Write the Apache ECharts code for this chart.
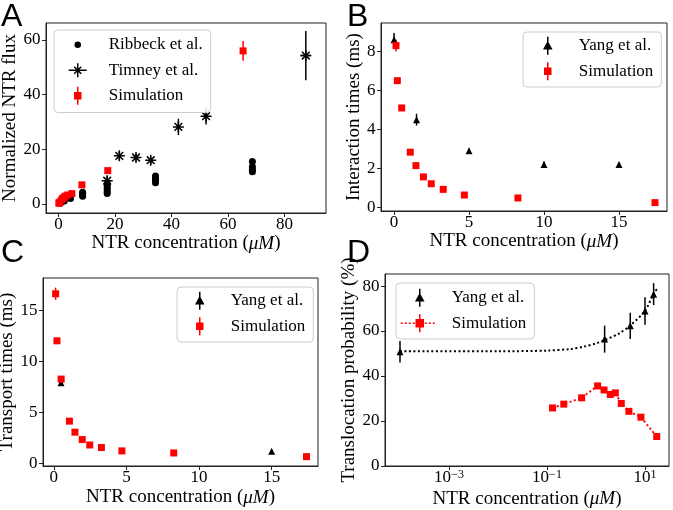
<!DOCTYPE html>
<html><head><meta charset="utf-8">
<script src="https://cdn.jsdelivr.net/npm/echarts@6/dist/echarts.min.js"></script>
<style>html,body{margin:0;padding:0;background:#fff}#c{width:673px;height:510px}</style>
</head><body><div id="c"></div><script>
// ---------------- DATA ----------------
// simulation concentrations (uM), shared by panels B, C, D
const simConc = [0.13, 0.22, 0.51, 1.08, 1.46, 1.96, 2.48, 3.28, 4.69, 8.26, 17.4];

// Panel A: normalized NTR flux
const ribbeckConc = [0.5, 1, 2, 4.2, 8.5, 8.5, 8.5, 8.5, 17.2, 17.2, 17.2, 17.2, 17.2, 17.2, 34.3, 34.3, 34.3, 34.3, 68.6, 68.6, 68.6, 68.6];
const ribbeckFlux = [0.3, 0.6, 1.1, 2.0, 2.8, 3.3, 3.8, 4.3, 3.8, 4.5, 5.2, 6.0, 6.8, 7.5, 7.8, 8.6, 9.4, 10.2, 11.8, 12.6, 13.6, 15.5];
const timneyConc = [17.2, 21.5, 27.4, 32.6, 42.4, 52.2, 87.5];
const timneyFlux = [8.5, 17.6, 17.0, 16.0, 28.2, 32.1, 54.3];
const timneyFluxErr = [1.8, 1.6, 1.2, 1.5, 3.0, 3.0, 9.0];
const timneyConcErr = [0.3, 0.3, 0.3, 0.3, 0.3, 0.3, 1.8];
const simFluxConc = [0.13, 0.22, 0.51, 1.08, 1.46, 1.96, 2.48, 3.28, 4.69, 8.26, 17.4, 65.3];
const simFlux = [0.3, 0.4, 0.8, 1.5, 2.0, 2.5, 2.9, 3.3, 3.8, 7.0, 12.2, 56.0];
const simFluxErr = [0.2, 0.2, 0.2, 0.3, 0.3, 0.3, 0.3, 0.3, 0.4, 0.5, 0.6, 3.6];

// Panel B: interaction times (ms)
const yangIntConc = [0, 1.5, 5, 10, 15];
const yangInt = [8.6, 4.5, 2.9, 2.2, 2.2];
const yangIntErr = [0.35, 0.3, 0.1, 0.15, 0.1];
const simInt = [8.3, 6.5, 5.1, 2.83, 2.14, 1.56, 1.21, 0.92, 0.63, 0.48, 0.24];
const simIntErr = [0.3, 0.12, 0.08, 0.06, 0.05, 0.04, 0.04, 0.03, 0.03, 0.02, 0.02];

// Panel C: transport times (ms)
const yangTrConc = [0.5, 15];
const yangTr = [7.9, 1.2];
const yangTrErr = [0.25, 0.15];
const simTr = [16.6, 12.0, 8.26, 4.15, 3.07, 2.35, 1.82, 1.57, 1.24, 1.04, 0.68];
const simTrErr = [0.6, 0.3, 0.2, 0.1, 0.1, 0.08, 0.06, 0.05, 0.05, 0.04, 0.03];

// Panel D: translocation probability (%)
const yangProbConc = [0.0001, 1.5, 5, 10, 15];
const yangProb = [50.8, 56.4, 62.3, 68.9, 76.4];
const yangProbErr = [4.8, 6.0, 5.8, 6.1, 4.9];
const simProb = [25.8, 27.5, 30.3, 35.6, 33.8, 31.8, 32.5, 27.8, 24.3, 21.7, 13.1];
const simProbErr = [0.5, 0.5, 0.5, 0.6, 0.6, 0.6, 0.6, 0.5, 0.5, 0.5, 0.4];
const fitConc = [0.0001, 0.01, 0.1, 0.3, 0.55, 1, 1.5, 3, 5, 10, 15, 18];
const fitProb = [51, 51, 51.3, 52, 53, 54.5, 56, 59, 62.5, 69, 76.5, 79];

// tick labels
const xTicksA = [0, 20, 40, 60, 80];
const yTicksA = [0, 20, 40, 60];
const xTicksB = [0, 5, 10, 15];
const yTicksB = [0, 2, 4, 6, 8];
const xTicksC = [0, 5, 10, 15];
const yTicksC = [0, 5, 10, 15];
const xTicksD = [0.001, 0.1, 10];
const yTicksD = [0, 20, 40, 60, 80];

// ---------------- STYLE / BUILD ----------------
const SERIF = '"Liberation Serif","Times New Roman",serif';
const SANS = '"Liberation Sans",Arial,sans-serif';
const AX = '#222';
const RED = '#ff0000';

const pairs = (xs, ys) => xs.map((x, i) => [x, ys[i]]);

function axisBase(gi, min, max, ticks, extra) {
  return Object.assign({
    type: 'value', gridIndex: gi, min: min, max: max,
    axisLine: { show: true, onZero: false, lineStyle: { color: AX, width: 1 } },
    axisTick: { show: true, inside: false, length: 4, lineStyle: { color: AX, width: 1 }, customValues: ticks },
    axisLabel: { show: true, customValues: ticks, color: '#000', fontFamily: SERIF, fontSize: 17 },
    splitLine: { show: false }, minorTick: { show: false }, minorSplitLine: { show: false },
    nameLocation: 'middle',
    nameTextStyle: { color: '#000', fontFamily: SERIF, fontSize: 19,
      rich: { i: { fontStyle: 'italic', fontFamily: SERIF, fontSize: 19, color: '#000' } } }
  }, extra);
}
const xName = 'NTR concentration ({i|\u03bcM})';
function xAx(gi, min, max, ticks, gap, extra) {
  const a = axisBase(gi, min, max, ticks, Object.assign({ position: 'bottom', name: xName, nameGap: gap }, extra || {}));
  a.axisLabel.margin = 3;
  return a;
}
function yAx(gi, min, max, ticks, name, gap) {
  const a = axisBase(gi, min, max, ticks, { position: 'left', name: name, nameGap: gap, nameRotate: 90 });
  a.axisLabel.margin = 5.5;
  return a;
}

function errorBars(gi, xs, ys, es, xes, color, lw) {
  const data = xs.map((x, i) => [x, ys[i], es[i], xes ? xes[i] : 0]);
  return {
    type: 'custom', xAxisIndex: gi, yAxisIndex: gi, data: data, silent: true,
    encode: { x: 0, y: 1 },
    renderItem: function (params, api) {
      const x = api.value(0), y = api.value(1), e = api.value(2), ex = api.value(3);
      const a = api.coord([x, y - e]), b = api.coord([x, y + e]);
      const ch = [{ type: 'line', shape: { x1: a[0], y1: a[1], x2: b[0], y2: b[1] }, style: { stroke: color, lineWidth: lw } }];
      if (ex > 0) {
        const c = api.coord([x - ex, y]), d = api.coord([x + ex, y]);
        ch.push({ type: 'line', shape: { x1: c[0], y1: c[1], x2: d[0], y2: d[1] }, style: { stroke: color, lineWidth: lw } });
      }
      return { type: 'group', children: ch };
    }
  };
}
function scatter(name, gi, data, symbol, size, color, extraStyle) {
  return {
    type: 'scatter', name: name, xAxisIndex: gi, yAxisIndex: gi, data: data,
    symbol: symbol, symbolSize: size, symbolKeepAspect: true,
    itemStyle: Object.assign({ color: color, opacity: 1 }, extraStyle || {})
  };
}

const ASTERISK = 'path://M-5,0L5,0M0,-5L0,5M-3.5,-3.5L3.5,3.5M-3.5,3.5L3.5,-3.5';

// legend icons (drawn in a W x 22 box, first two moves fix the box extent)
function box(w) { return 'M0,0M' + w + ',22'; }
const iconRibbeck = 'path://' + box(44) + 'M15.5,11A2.5,2.5 0 1,0 20.5,11A2.5,2.5 0 1,0 15.5,11Z';
const iconTimney = 'path://' + box(44) + 'M9,11L27,11M18,4L18,18M14.5,7.5L21.5,14.5M14.5,14.5L21.5,7.5';
function iconSim(w, cx) { return 'path://' + box(w) + 'M' + cx + ',2L' + cx + ',20M' + (cx - 3) + ',8L' + (cx + 3) + ',8L' + (cx + 3) + ',14L' + (cx - 3) + ',14Z'; }
function iconYang(w, cx) { return 'path://' + box(w) + 'M' + cx + ',2L' + cx + ',20M' + cx + ',7.5L' + (cx + 3.5) + ',14L' + (cx - 3.5) + ',14Z'; }
function iconSimLine(w, cx) {
  let p = 'path://' + box(w);
  for (let x = 2; x < 38; x += 4) p += 'M' + x + ',11L' + (x + 2) + ',11';
  p += 'M' + cx + ',2L' + cx + ',20M' + (cx - 3.5) + ',7.5L' + (cx + 3.5) + ',7.5L' + (cx + 3.5) + ',14.5L' + (cx - 3.5) + ',14.5Z';
  return p;
}
const lgBlack = { color: '#000', borderColor: '#000', borderWidth: 1.5 };
const lgRed = { color: RED, borderColor: RED, borderWidth: 1.5 };

function legend(left, top, w, pad, items) {
  return {
    show: true, orient: 'vertical', left: left, top: top, padding: pad,
    itemWidth: w, itemHeight: 22, itemGap: 2, symbolKeepAspect: true, selectedMode: false,
    backgroundColor: 'rgba(255,255,255,0.85)', borderColor: '#cccccc', borderWidth: 1, borderRadius: 4,
    textStyle: { color: '#000', fontFamily: SERIF, fontSize: 17 },
    formatter: n => n.split('\u00b7')[0],
    data: items
  };
}

const option = {
  animation: false,
  backgroundColor: '#fff',
  grid: [
    { left: 46, top: 23, width: 280, height: 190 },
    { left: 381, top: 23, width: 286, height: 188 },
    { left: 43, top: 278, width: 275, height: 188 },
    { left: 385, top: 274, width: 284, height: 192 }
  ].map(g => Object.assign(g, { show: true, borderColor: AX, borderWidth: 1, backgroundColor: 'transparent', containLabel: false, outerBoundsMode: 'none' })),
  xAxis: [
    xAx(0, -4.46, 94.65, xTicksA, 21),
    xAx(1, -0.87, 18.2, xTicksB, 21),
    xAx(2, -0.74, 18.19, xTicksC, 22),
    (function () {
      const a = xAx(3, Math.pow(10, -4.306), Math.pow(10, 1.49), xTicksD, 23.5, { type: 'log', logBase: 10 });
      a.axisLabel.formatter = function (v) {
        const e = Math.round(Math.log10(v));
        return '{b|10}{s|' + (e < 0 ? '\u2212' + (-e) : e) + '}';
      };
      a.axisLabel.rich = {
        b: { fontFamily: SERIF, fontSize: 17, color: '#000' },
        s: { fontFamily: SERIF, fontSize: 12, color: '#000', verticalAlign: 'top', lineHeight: 12 }
      };
      return a;
    })()
  ],
  yAxis: [
    yAx(0, -3.3, 66.2, yTicksA, 'Normalized NTR flux', 24),
    yAx(1, -0.19, 9.46, yTicksB, 'Interaction times (ms)', 17),
    yAx(2, -0.235, 18.14, yTicksC, 'Transport times (ms)', 24),
    yAx(3, 0, 85.35, yTicksD, 'Translocation probability (%)', 23)
  ],
  legend: [
    legend(54, 30, 44, [3, 8, 5, 5], [
      { name: 'Ribbeck et al.', icon: iconRibbeck, itemStyle: lgBlack },
      { name: 'Timney et al.', icon: iconTimney, itemStyle: lgBlack },
      { name: 'Simulation\u00b7A', icon: iconSim(44, 18), itemStyle: lgRed }
    ]),
    legend(523, 32, 44, [2, 8, 4, 6], [
      { name: 'Yang et al.\u00b7B', icon: iconYang(44, 18), itemStyle: lgBlack },
      { name: 'Simulation\u00b7B', icon: iconSim(44, 18), itemStyle: lgRed }
    ]),
    legend(177, 287, 44, [2, 8, 4, 4], [
      { name: 'Yang et al.\u00b7C', icon: iconYang(44, 18), itemStyle: lgBlack },
      { name: 'Simulation\u00b7C', icon: iconSim(44, 18), itemStyle: lgRed }
    ]),
    legend(396, 283, 48, [3, 8, 4, 2], [
      { name: 'Yang et al.\u00b7D', icon: iconYang(48, 21), itemStyle: lgBlack },
      { name: 'Simulation\u00b7D', icon: iconSimLine(48, 21), itemStyle: lgRed }
    ])
  ],
  series: [
    // Panel A
    scatter('Ribbeck et al.', 0, pairs(ribbeckConc, ribbeckFlux), 'circle', 7, '#000'),
    errorBars(0, timneyConc, timneyFlux, timneyFluxErr, timneyConcErr, '#000', 1.5),
    scatter('Timney et al.', 0, pairs(timneyConc, timneyFlux), ASTERISK, 11, '#000', { borderColor: '#000', borderWidth: 1.5 }),
    errorBars(0, simFluxConc, simFlux, simFluxErr, null, RED, 1.5),
    scatter('Simulation\u00b7A', 0, pairs(simFluxConc, simFlux), 'rect', 7, RED),
    // Panel B
    errorBars(1, yangIntConc, yangInt, yangIntErr, null, '#000', 1.5),
    scatter('Yang et al.\u00b7B', 1, pairs(yangIntConc, yangInt), 'triangle', 7, '#000'),
    errorBars(1, simConc, simInt, simIntErr, null, RED, 1.5),
    scatter('Simulation\u00b7B', 1, pairs(simConc, simInt), 'rect', 7, RED),
    // Panel C
    errorBars(2, yangTrConc, yangTr, yangTrErr, null, '#000', 1.5),
    scatter('Yang et al.\u00b7C', 2, pairs(yangTrConc, yangTr), 'triangle', 7, '#000'),
    errorBars(2, simConc, simTr, simTrErr, null, RED, 1.5),
    scatter('Simulation\u00b7C', 2, pairs(simConc, simTr), 'rect', 7, RED),
    // Panel D
    {
      type: 'line', name: 'fit', xAxisIndex: 3, yAxisIndex: 3, data: pairs(fitConc, fitProb),
      symbol: 'none', smooth: 0.3, lineStyle: { color: '#000', width: 2, type: [2, 2.5] }, silent: true
    },
    errorBars(3, yangProbConc, yangProb, yangProbErr, null, '#000', 1.5),
    scatter('Yang et al.\u00b7D', 3, pairs(yangProbConc, yangProb), 'triangle', 7, '#000'),
    errorBars(3, simConc, simProb, simProbErr, null, RED, 1.5),
    {
      type: 'line', name: 'Simulation\u00b7D', xAxisIndex: 3, yAxisIndex: 3, data: pairs(simConc, simProb),
      symbol: 'rect', symbolSize: 7, showSymbol: true, itemStyle: { color: RED },
      lineStyle: { color: RED, width: 2, type: [2, 2.5] }
    }
  ],
  graphic: [
    { type: 'text', left: 1, top: 1, style: { text: 'A', fontSize: 32, fontFamily: SANS, fill: '#000' } },
    { type: 'text', left: 347, top: 1, style: { text: 'B', fontSize: 32, fontFamily: SANS, fill: '#000' } },
    { type: 'text', left: 1, top: 237, style: { text: 'C', fontSize: 32, fontFamily: SANS, fill: '#000' } },
    { type: 'text', left: 347, top: 237, style: { text: 'D', fontSize: 32, fontFamily: SANS, fill: '#000' } }
  ]
};

const chart = echarts.init(document.getElementById('c'), null, { renderer: 'canvas', width: 673, height: 510 });
chart.setOption(option);
</script></body></html>
